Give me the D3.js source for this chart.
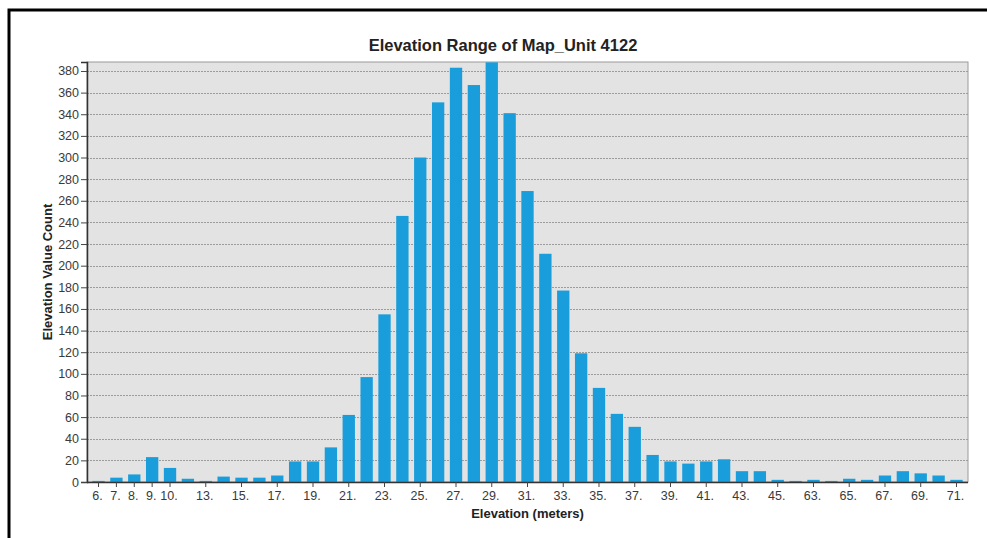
<!DOCTYPE html>
<html>
<head>
<meta charset="utf-8">
<script src="https://cdn.jsdelivr.net/npm/d3@7"></script>
<style>
  html, body { margin: 0; padding: 0; background: #fff; }
  svg { display: block; font-family: "Liberation Sans", Arial, sans-serif; }
</style>
</head>
<body>
<svg id="chart" width="987" height="538"></svg>
<script>
const categories = ["6","7","8","9","10","12","13","14","15","16","17","18","19","20","21","22","23","24","25","26","27","28","29","30","31","32","33","34","35","36","37","38","39","40","41","42","43","44","45","46","63","64","65","66","67","68","69","70","71"];
const counts = [1,4,7,23,13,3,1,5,4,4,6,19,19,32,62,97,155,246,300,351,383,367,388,341,269,211,177,119,87,63,51,25,19,17,19,21,10,10,2,1,2,1,3,2,6,10,8,6,2];
const xTickLabels = ["6","7","8","9","10","13","15","17","19","21","23","25","27","29","31","33","35","37","39","41","43","45","63","65","67","69","71"];
const yTicks = [0,20,40,60,80,100,120,140,160,180,200,220,240,260,280,300,320,340,360,380];
const title = "Elevation Range of Map_Unit 4122";
const xTitle = "Elevation (meters)";
const yTitle = "Elevation Value Count";

const svg = d3.select("#chart");
const L = 87, R = 968, T = 62, B = 482;

// outer frame
svg.append("rect").attr("x", 9).attr("y", 10).attr("width", 1100).attr("height", 700)
  .attr("fill", "#fff").attr("stroke", "#000").attr("stroke-width", 3);

const x = d3.scaleBand().domain(categories).range([L, R]).paddingInner(0.31).paddingOuter(0.3);
const y = d3.scaleLinear().domain([0, 388.3]).range([B, T]);

// plot background
svg.append("rect").attr("x", L).attr("y", T).attr("width", R - L).attr("height", B - T)
  .attr("fill", "#e3e3e3").attr("stroke", "#9a9a9a").attr("stroke-width", 1);

// gridlines
svg.append("g").selectAll("line").data(yTicks.filter(d => d > 0)).join("line")
  .attr("x1", L).attr("x2", R)
  .attr("y1", d => Math.round(y(d)) + 0.5).attr("y2", d => Math.round(y(d)) + 0.5)
  .attr("stroke", "#9c9c9c").attr("stroke-width", 1).attr("stroke-dasharray", "2,1");

// bars
svg.append("g").selectAll("rect").data(categories).join("rect")
  .attr("x", d => x(d))
  .attr("width", x.bandwidth())
  .attr("y", (d, i) => y(counts[i]))
  .attr("height", (d, i) => B - y(counts[i]))
  .attr("fill", "#1a9edb");

// y axis
const yAxis = d3.axisLeft(y).tickValues(yTicks).tickSize(6).tickPadding(2).tickFormat(d3.format("d"));
const gy = svg.append("g").attr("transform", `translate(${L},0)`).call(yAxis);
gy.select(".domain").attr("stroke", "#333").attr("stroke-width", 1.5);
gy.selectAll(".tick line").attr("stroke", "#444");
gy.selectAll(".tick text").attr("fill", "#3a3a3a").style("font-size", "12.5px")
  .style("font-family", "'Liberation Sans', Arial, sans-serif");

// x axis
const xAxis = d3.axisBottom(x).tickValues(xTickLabels).tickSize(5).tickSizeOuter(0).tickPadding(4).tickFormat(d => d + ".");
const gx = svg.append("g").attr("transform", `translate(0,${B})`).call(xAxis);
gx.select(".domain").attr("stroke", "#333").attr("stroke-width", 1.5).attr("d", `M${L},0.5H${R}`);
gx.selectAll(".tick line").attr("stroke", "#444");
gx.selectAll(".tick text").attr("fill", "#3a3a3a").style("font-size", "12.5px")
  .style("font-family", "'Liberation Sans', Arial, sans-serif").attr("dx", "-1");

// titles
svg.append("text").attr("x", 503).attr("y", 51).attr("text-anchor", "middle")
  .style("font-size", "16.5px").style("font-weight", "bold").attr("fill", "#222").text(title);
svg.append("text").attr("x", (L + R) / 2).attr("y", 518).attr("text-anchor", "middle")
  .style("font-size", "13px").style("font-weight", "bold").attr("fill", "#222").text(xTitle);
svg.append("text").attr("transform", `translate(52,${(T + B) / 2}) rotate(-90)`).attr("text-anchor", "middle")
  .style("font-size", "13px").style("font-weight", "bold").attr("fill", "#222").text(yTitle);
</script>
</body>
</html>
